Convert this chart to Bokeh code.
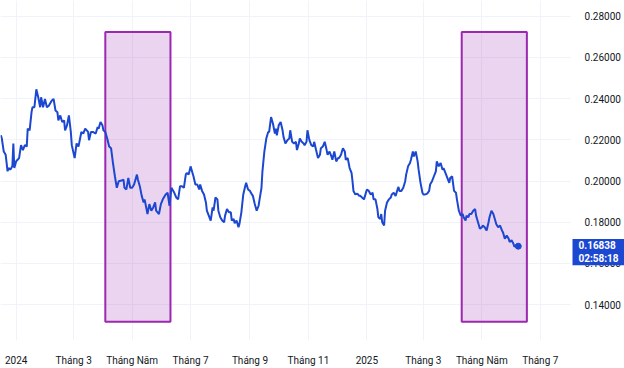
import pandas as pd
from bokeh.plotting import figure
from bokeh.models import Range1d, FixedTicker, NumeralTickFormatter, ColumnDataSource, Label, BoxAnnotation
from bokeh.embed import file_html
from bokeh.resources import INLINE

# ---------------- data ----------------
start_date = "2024-01-01"
day_offset = [-16,-15,-13,-11,-9,-8,-6,-4,-3,-2,0,3,5,7,9,11,12,14,16,17,19,21,23,25,26,28,30,32,34,37,
              39,41,43,44,46,48,50,51,53,55,57,58,61,63,65,68,70,72,75,76,78,
              80,83,85,86,88,90,91,93,95,97,99,101,103,105,107,110,112,113,115,117,119,121,123,126,127,129,131,133,134,136,
              137,139,141,143,145,146,149,151,153,156,158,160,162,165,167,169,171,
              173,175,177,178,180,182,184,185,187,189,191,192,194,196,198,199,201,203,205,206,208,210,211,213,215,217,218,220,222,224,
              225,227,228,230,232,233,235,237,239,240,242,244,246,247,249,251,253,254,256,257,259,261,263,264,266,268,270,
              271,272,274,276,278,279,281,283,285,286,288,290,292,293,295,296,298,300,301,303,304,306,308,310,311,313,315,317,318,320,
              322,324,325,327,329,330,332,334,336,337,339,341,343,344,346,348,350,351,352,354,356,358,
              359,361,363,365,366,368,370,372,373,375,377,378,380,381,382,384,385,387,389,391,392,394,396,398,399,400,402,404,406,407,
              409,411,412,414,415,417,419,420,422,424,425,427,429,431,432,434,436,438,439,441,443,445,446,
              448,450,452,453,455,457,459,460,462,464,466,467,469,470,472,473,475,477,479,480,482,484,486,487,489,491,493,494,496,498,
              500,501,503,505,507,508,510,512,514,515,517,519,520,522,524]
price = [0.2222,0.2206,0.2143,0.2127,0.2047,0.2063,0.2055,0.2073,0.2182,0.2063,
         0.2096,0.2111,0.2174,0.2150,0.2174,0.2167,0.2254,0.2246,0.2334,0.2358,
         0.2358,0.2445,0.2406,0.2358,0.2406,0.2358,0.2398,0.2358,0.2365,0.2389,
         0.2398,0.2342,0.2334,0.2294,0.2318,0.2286,0.2294,0.2246,0.2270,0.2318,
         0.2238,0.2174,0.2111,0.2182,0.2167,0.2238,0.2230,0.2254,0.2238,0.2198,0.2238,
         0.2238,0.2230,0.2262,0.2254,0.2286,0.2270,0.2246,0.2238,0.2206,0.2167,
         0.2159,0.2087,0.2023,0.1967,0.1999,0.2002,0.2007,0.1967,0.1959,0.2015,
         0.1967,0.1967,0.1983,0.2031,0.2007,0.1975,0.1928,0.1896,0.1911,0.1864,
         0.1840,0.1888,0.1856,0.1872,0.1896,0.1856,0.1840,0.1888,0.1911,0.1935,
         0.1943,0.1880,0.1967,0.1943,0.1920,0.1911,0.1975,
         0.1975,0.1967,0.2031,0.2039,0.2031,0.2071,0.2039,0.2023,0.1983,0.1983,
         0.1959,0.1983,0.1952,0.1935,0.1896,0.1856,0.1832,0.1808,0.1872,0.1856,
         0.1920,0.1911,0.1856,0.1824,0.1808,0.1800,0.1832,0.1864,0.1848,0.1848,
         0.1808,0.1816,0.1795,0.1808,0.1776,0.1792,0.1848,0.1935,0.1975,0.1991,
         0.1959,0.1952,0.1935,0.1928,0.1888,0.1856,0.1880,0.1911,0.1967,0.2047,
         0.2143,0.2206,0.2238,0.2238,0.2310,0.2278,0.2230,
         0.2254,0.2222,0.2270,0.2286,0.2246,0.2214,0.2182,0.2198,0.2206,0.2246,
         0.2190,0.2182,0.2190,0.2150,0.2182,0.2206,0.2190,0.2182,0.2174,0.2190,
         0.2246,0.2198,0.2174,0.2167,0.2190,0.2150,0.2111,0.2127,0.2159,0.2167,
         0.2190,0.2150,0.2127,0.2143,0.2119,0.2103,0.2143,0.2095,0.2111,0.2111,
         0.2127,0.2159,0.2143,0.2103,0.2111,0.2063,0.2039,0.1999,0.1952,0.1935,0.1939,0.1928,
         0.1928,0.1920,0.1911,0.1943,0.1959,0.1952,0.1935,0.1943,0.1911,0.1911,
         0.1864,0.1824,0.1816,0.1840,0.1800,0.1784,0.1856,0.1896,0.1911,0.1920,
         0.1935,0.1943,0.1928,0.1959,0.1971,0.1952,0.1952,0.1967,0.1999,0.2031,
         0.2071,0.2087,0.2103,0.2143,0.2119,0.2143,0.2095,0.2055,0.1991,0.1943,
         0.1935,0.1935,0.1939,0.1952,0.1983,0.1999,0.2023,0.2047,0.2095,0.2071,0.2087,0.2055,0.2063,
         0.2039,0.2015,0.1991,0.2015,0.2023,0.1952,0.1943,0.1911,0.1856,0.1832,
         0.1840,0.1824,0.1808,0.1832,0.1824,0.1840,0.1840,0.1856,0.1864,0.1832,
         0.1800,0.1768,0.1776,0.1784,0.1776,0.1760,0.1800,0.1824,0.1856,0.1840,
         0.1808,0.1792,0.1776,0.1784,0.1760,0.1752,0.1720,0.1736,0.1720,0.1704,
         0.1713,0.1696,0.1681,0.1688,0.16838]
last_price_text = "0.16838"
countdown_text = "02:58:18"

tick_dates = ["2024-01-01", "2024-03-01", "2024-05-01", "2024-07-01", "2024-09-01", "2024-11-01",
              "2025-01-01", "2025-03-01", "2025-05-01", "2025-07-01"]
tick_labels = ["2024", "Tháng 3", "Tháng Năm", "Tháng 7", "Tháng 9", "Tháng 11",
               "2025", "Tháng 3", "Tháng Năm", "Tháng 7"]
y_ticks = [0.14, 0.16, 0.18, 0.20, 0.22, 0.24, 0.26, 0.28]

box_start = ["2024-04-03", "2025-04-10"]
box_end = ["2024-06-10", "2025-06-17"]
box_top = [0.2723, 0.2723]
box_bottom = [0.1317, 0.1317]

# ---------------- build ----------------
n = min(len(day_offset), len(price))
base = pd.Timestamp(start_date)
dates = [base + pd.Timedelta(days=d) for d in day_offset[:n]]
src = ColumnDataSource(dict(x=dates, y=price[:n]))

x0 = base + pd.Timedelta(days=-16.4)
x1 = base + pd.Timedelta(days=634.9)
axis_at = base + pd.Timedelta(days=578.6)          # price-scale edge
axis_at_ms = axis_at.value / 10**6

FONT = "Roboto"
TXT = "#131722"
BLUE = "#1C47D1"

p = figure(width=624, height=368, x_axis_type="datetime", y_axis_location="right",
           x_range=Range1d(x0, x1), y_range=Range1d(0.12264, 0.28755),
           output_backend="svg", toolbar_location=None,
           min_border_left=0, min_border_top=0, min_border_right=0, min_border_bottom=23)
p.outline_line_color = None
p.background_fill_color = "white"
p.border_fill_color = "white"

p.quad(left=pd.to_datetime(box_start), right=pd.to_datetime(box_end), top=box_top, bottom=box_bottom,
       fill_color="#9C27B0", fill_alpha=0.2, line_color="#9C27B0", line_width=2)

p.line("x", "y", source=src, line_color=BLUE, line_width=2)
p.scatter([dates[-1]], [price[n - 1]], size=6, fill_color=BLUE, line_color=BLUE)

# white price-scale panel hiding the grid behind the y labels
p.add_layout(BoxAnnotation(left=axis_at_ms, fill_color="white", fill_alpha=1.0,
                           line_color=None, level="glyph"))

tick_ms = [float(pd.Timestamp(d).value // 10**6) for d in tick_dates]
p.xaxis.ticker = FixedTicker(ticks=tick_ms)
p.xaxis.major_label_overrides = {t: l for t, l in zip(tick_ms, tick_labels)}
p.yaxis.ticker = FixedTicker(ticks=y_ticks)
p.yaxis.formatter = NumeralTickFormatter(format="0.00000")
p.yaxis.fixed_location = axis_at_ms

for ax in (p.xaxis[0], p.yaxis[0]):
    ax.axis_line_color = None
    ax.major_tick_line_color = None
    ax.minor_tick_line_color = None
    ax.major_label_text_font = FONT
    ax.major_label_text_font_size = "10px"
    ax.major_label_text_color = TXT
    ax.major_label_standoff = 8

p.xgrid.grid_line_color = "#F0F3FA"
p.ygrid.grid_line_color = "#F0F3FA"
p.xgrid.ticker = p.xaxis.ticker
p.ygrid.ticker = p.yaxis.ticker

lbl = Label(x=572, x_units="screen", y=price[n - 1], y_units="data",
            text=last_price_text + "\n" + countdown_text,
            text_font=FONT, text_font_size="10px", text_font_style="bold", text_color="white",
            text_baseline="middle", text_align="left", y_offset=-6,
            background_fill_color=BLUE, padding=dict(left=6, right=6, top=1, bottom=1))
p.add_layout(lbl)

open("out.html", "w").write(file_html(p, INLINE))
